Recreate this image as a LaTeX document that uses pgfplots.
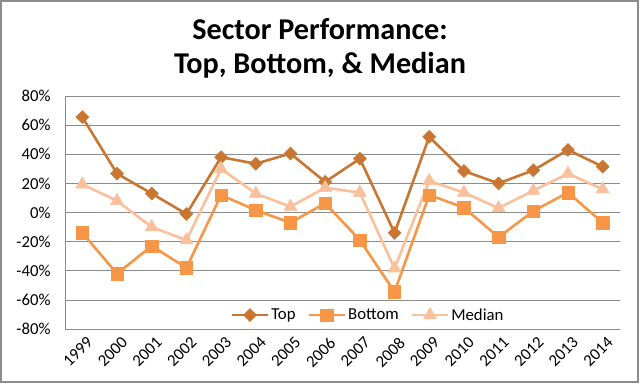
\documentclass[border=0pt]{standalone}
\usepackage{pgfplots}
\pgfplotsset{compat=1.18}
\usepackage{fontspec}
\setmainfont{Carlito}
\definecolor{topc}{RGB}{201,118,50}
\definecolor{botc}{RGB}{247,150,70}
\definecolor{medc}{RGB}{250,192,155}
\definecolor{gridc}{RGB}{140,140,140}
\begin{document}
\begin{tikzpicture}[x=1bp,y=1bp]
\path[use as bounding box] (0,0) rectangle (640,385);
\draw[gridc, line width=1.5bp] (1,3) rectangle (638,384);
\node[anchor=base, font=\fontsize{30.3}{34}\selectfont\bfseries] at (320,346) {Sector Performance:};
\node[anchor=base, font=\fontsize{30.3}{34}\selectfont\bfseries] at (320,312) {Top, Bottom, \& Median};
\begin{axis}[
  at={(65bp,56bp)}, anchor=south west,
  width=555bp, height=233bp, scale only axis,
  xmin=-0.5, xmax=15.5, ymin=-80, ymax=80,
  xtick={0,...,15},
  xticklabels={1999,2000,2001,2002,2003,2004,2005,2006,2007,2008,2009,2010,2011,2012,2013,2014},
  ytick={-80,-60,-40,-20,0,20,40,60,80},
  yticklabels={-80\%,-60\%,-40\%,-20\%,0\%,20\%,40\%,60\%,80\%},
  axis x line*=bottom, axis y line*=left,
  axis line style={gridc, line width=0.75bp, -},
  major tick length=0pt,
  ymajorgrids, grid style={gridc, line width=0.75bp},
  tick label style={font=\fontsize{16.8}{19}\selectfont},
  xticklabel style={rotate=45, anchor=north east, xshift=1bp, yshift=-4bp},
  yticklabel style={xshift=-11bp},
  legend columns=3,
  legend style={draw=none, fill=none, at={(0.546,0.06)}, anchor=center,
    font=\fontsize{16.8}{19}\selectfont,
    /tikz/every even column/.append style={column sep=10bp}},
  legend image code/.code={\draw[mark repeat=2,mark phase=2] plot coordinates {(0bp,0bp)(18bp,0bp)(36bp,0bp)};},
]
\addplot[topc, line width=2.6bp, mark=square*, mark size=4.6bp, mark options={rotate=45, fill=topc, draw=topc, line width=0.5bp}]
coordinates {(0,65.5)(1,26.7)(2,13)(3,-1)(4,38)(5,33.5)(6,40.5)(7,21)(8,37)(9,-14)(10,52)(11,28.5)(12,20)(13,29)(14,43)(15,31.5)};
\addlegendentry{Top}
\addplot[botc, line width=2.6bp, mark=square*, mark size=6.2bp, mark options={fill=botc, draw=botc, line width=0.5bp}]
coordinates {(0,-14)(1,-42)(2,-23)(3,-38)(4,12)(5,1.6)(6,-7)(7,6.4)(8,-19)(9,-54.5)(10,12)(11,3.4)(12,-17)(13,1)(14,13.7)(15,-7)};
\addlegendentry{Bottom}
\addplot[medc, line width=2.6bp, mark=triangle*, mark size=7.5bp, mark options={fill=medc, draw=medc, line width=0.5bp}]
coordinates {(0,19.4)(1,8)(2,-10)(3,-19)(4,30)(5,13)(6,4)(7,17)(8,13.7)(9,-38.4)(10,21.7)(11,13.7)(12,3)(13,15)(14,26.7)(15,16)};
\addlegendentry{Median}
\end{axis}
\end{tikzpicture}
\end{document}
